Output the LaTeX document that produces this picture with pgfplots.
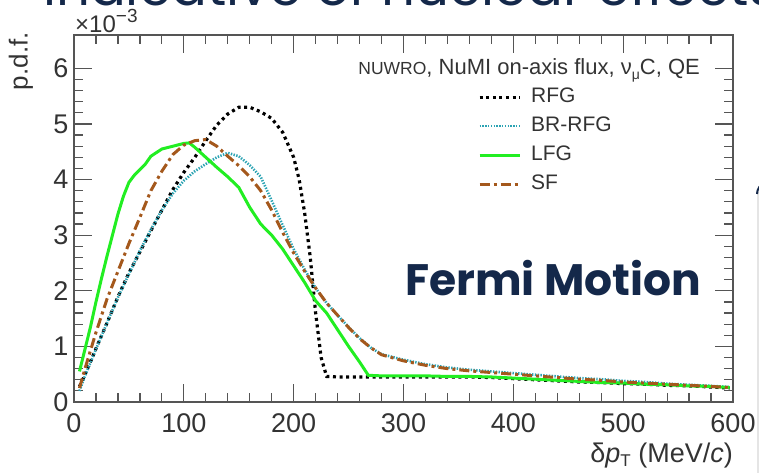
\documentclass[border=0pt]{standalone}
\usepackage{fontspec}
\setmainfont{Liberation Sans}
\newfontfamily\slidefont{Poppins}
\usepackage{pgfplots}
\pgfplotsset{compat=1.18}
\definecolor{navy}{HTML}{14284A}
\definecolor{axisgray}{HTML}{555555}
\definecolor{labelgray}{HTML}{333333}
\definecolor{teal}{HTML}{2BA3B3}
\definecolor{lgreen}{HTML}{22EE22}
\definecolor{sfbrown}{HTML}{A4581C}
\begin{document}
\begin{tikzpicture}
\path[use as bounding box] (-74pt,-70pt) rectangle (685pt,402pt);
\clip (-74pt,-70pt) rectangle (685pt,402pt);
% slide elements
\node[anchor=base west, inner sep=0pt, text=navy, font=\slidefont\fontsize{53}{53}\selectfont] at (-31pt,396pt) {Indicative of nuclear effects};
\fill[black!10, rounded corners=12pt] (683pt,-120pt) rectangle (780pt,222pt);
\draw[navy, line width=2pt] (683pt,208pt) arc[start angle=180, end angle=110, radius=12pt];
\begin{axis}[
  at={(0pt,0pt)}, anchor=south west, scale only axis,
  width=659pt, height=367pt,
  xmin=0, xmax=600, ymin=0, ymax=6.6,
  xtick={0,100,...,600}, ytick={0,1,...,6},
  minor x tick num=4, minor y tick num=4,
  tick align=inside, major tick length=18pt, minor tick length=9pt,
  axis line style={draw=axisgray, line width=1.3pt},
  every tick/.style={axisgray, line width=1.2pt},
  ticklabel style={font=\fontsize{27}{27}\selectfont, text=labelgray},
  xticklabel style={yshift=-8pt},
  yticklabel style={xshift=-2pt},
  /pgf/number format/assume math mode=true,
  scaled y ticks=false,
  legend style={draw=none, fill=none, inner sep=0pt, outer sep=0pt,
    at={(0.613,0.858)}, anchor=north west,
    font=\fontsize{21}{21}\selectfont, text=labelgray,
    row sep=9pt, column sep=10pt,
    nodes={inner sep=0pt, text height=15pt, text depth=5pt}},
  legend cell align=left,
  legend image code/.code={\draw[#1] (0pt,0pt) -- (40pt,0pt);},
  clip=true,
]
\addplot[black, line width=3.2pt, dash pattern=on 3pt off 3.6pt] coordinates {
(5,0.28) (10,0.49) (20,0.96) (30,1.42) (40,1.89) (50,2.32) (60,2.7) (70,3.08) (80,3.45) (90,3.82) (100,4.13) (110,4.4) (120,4.7) (130,4.98) (140,5.18) (150,5.3) (160,5.3) (170,5.22) (180,5.1) (190,4.85) (200,4.4) (205,4.0) (210,3.4) (215,2.62) (220,1.6) (225,0.8) (230,0.46) (240,0.45) (260,0.45) (280,0.45) (300,0.45) (320,0.45) (340,0.45) (360,0.45) (380,0.44) (400,0.42) (420,0.40) (440,0.38) (460,0.36) (480,0.35) (500,0.33) (520,0.32) (540,0.30) (560,0.29) (580,0.27) (597,0.25)
};
\addlegendentry{RFG}
\addplot[teal, line width=2.6pt, dash pattern=on 1.4pt off 1.4pt] coordinates {
(5,0.2) (10,0.47) (20,0.95) (30,1.42) (40,1.88) (50,2.3) (60,2.72) (70,3.1) (80,3.45) (90,3.75) (100,3.98) (110,4.15) (120,4.28) (130,4.4) (140,4.48) (150,4.42) (160,4.26) (170,4.05) (180,3.62) (190,3.18) (200,2.75) (210,2.38) (220,2.05) (230,1.78) (240,1.56) (250,1.35) (260,1.15) (270,0.98) (280,0.86) (300,0.76) (320,0.68) (340,0.62) (360,0.58) (380,0.55) (400,0.52) (420,0.49) (440,0.46) (460,0.43) (480,0.41) (500,0.38) (520,0.36) (540,0.33) (560,0.31) (580,0.29) (597,0.27)
};
\addlegendentry{BR-RFG}
\addplot[lgreen, line width=3pt] coordinates {
(5,0.55) (10,0.95) (15,1.35) (20,1.8) (25,2.22) (30,2.62) (35,3.0) (40,3.38) (45,3.7) (50,3.95) (55,4.08) (60,4.18) (65,4.28) (70,4.42) (80,4.55) (90,4.6) (100,4.65) (105,4.66) (110,4.58) (120,4.4) (130,4.22) (140,4.05) (150,3.86) (160,3.5) (170,3.2) (180,3.0) (190,2.75) (200,2.45) (210,2.15) (220,1.82) (230,1.6) (240,1.3) (250,1.0) (260,0.72) (268,0.48) (280,0.47) (300,0.47) (320,0.47) (340,0.46) (360,0.46) (380,0.45) (400,0.43) (420,0.41) (440,0.39) (460,0.37) (480,0.35) (500,0.34) (520,0.32) (540,0.31) (560,0.29) (580,0.28) (597,0.26)
};
\addlegendentry{LFG}
\addplot[sfbrown, line width=3pt, dash pattern=on 10pt off 4pt on 3pt off 4pt] coordinates {
(5,0.25) (10,0.6) (20,1.25) (30,1.85) (40,2.35) (50,2.85) (60,3.32) (70,3.8) (80,4.15) (90,4.45) (100,4.62) (110,4.7) (120,4.72) (130,4.6) (140,4.42) (150,4.25) (160,4.05) (170,3.8) (180,3.45) (190,3.05) (200,2.68) (210,2.35) (220,2.05) (230,1.78) (240,1.56) (250,1.34) (260,1.14) (270,0.98) (280,0.85) (300,0.74) (320,0.66) (340,0.6) (360,0.56) (380,0.53) (400,0.5) (420,0.47) (440,0.44) (460,0.41) (480,0.39) (500,0.36) (520,0.34) (540,0.32) (560,0.3) (580,0.28) (597,0.26)
};
\addlegendentry{SF}
\end{axis}
% axis texts
\node[anchor=base west, inner sep=0pt, text=labelgray, font=\fontsize{24}{24}\selectfont] at (1pt,369pt) {×10\raisebox{0.42em}{\fontsize{19}{19}\selectfont −3}};
\node[anchor=east, rotate=90, inner sep=0pt, text=labelgray, font=\fontsize{26}{26}\selectfont] at (-53pt,370pt) {p.d.f.};
\node[anchor=base east, inner sep=0pt, text=labelgray, font=\fontsize{27}{27}\selectfont] at (659pt,-60pt) {δ\textit{p}\raisebox{-0.35ex}{\fontsize{17}{17}\selectfont T} (MeV/\textit{c})};
\node[anchor=base east, inner sep=0pt, text=labelgray] at (626pt,327pt) {\fontsize{17.5}{17.5}\selectfont NUWRO\fontsize{22}{22}\selectfont, NuMI on-axis flux, ν\raisebox{-0.35ex}{\fontsize{14}{14}\selectfont μ}C, QE};
\node[anchor=base west, inner sep=0pt, text=navy, font=\slidefont\bfseries\fontsize{44}{44}\selectfont] at (331pt,107pt) {Fermi Motion};
\end{tikzpicture}
\end{document}
